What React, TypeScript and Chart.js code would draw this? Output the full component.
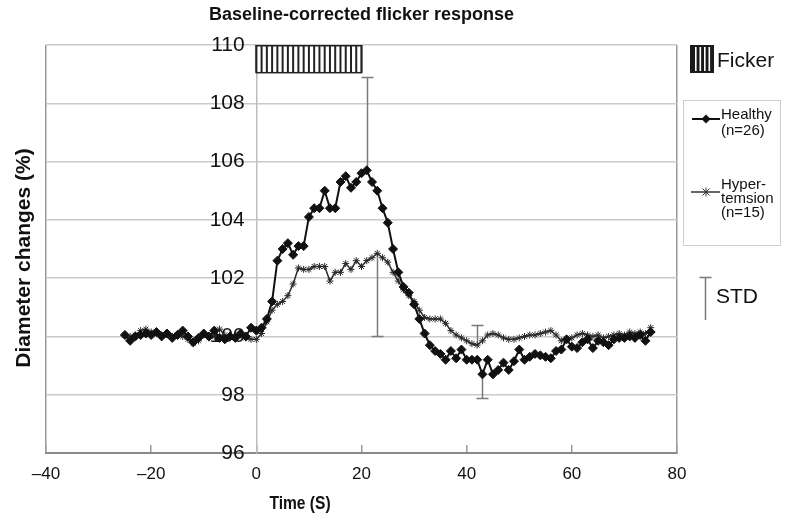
import React, { useEffect, useRef } from 'react';
import { Chart, registerables } from 'chart.js';

Chart.register(...registerables);

const FONT = "'Liberation Sans', Arial, Helvetica, sans-serif";

const chartTitle = 'Baseline-corrected flicker response';
const xTitle = 'Time (S)';
const yTitle = 'Diameter changes (%)';

const times = [
  -25, -24, -23, -22, -21, -20, -19, -18, -17, -16, -15, -14, -13, -12, -11, -10, -9, -8, -7, -6, -5, -4, -3, -2, -1,
  0, 1, 2, 3, 4, 5, 6, 7, 8, 9, 10, 11, 12, 13, 14, 15, 16, 17, 18, 19, 20, 21, 22, 23, 24, 25,
  26, 27, 28, 29, 30, 31, 32, 33, 34, 35, 36, 37, 38, 39, 40, 41, 42, 43, 44, 45, 46, 47, 48, 49, 50,
  51, 52, 53, 54, 55, 56, 57, 58, 59, 60, 61, 62, 63, 64, 65, 66, 67, 68, 69, 70, 71, 72, 73, 74, 75,
];

const healthy = [
  100.05, 99.85, 100.0, 100.05, 100.1, 100.05, 100.15, 100.0, 100.1, 99.95, 100.05, 100.2, 100.0, 99.8, 99.95,
  100.1, 100.0, 100.2, 99.95, 99.9, 100.0, 99.95, 100.1, 100.0, 100.3,
  100.2, 100.3, 100.6, 101.2, 102.6, 103.0, 103.2, 102.8, 103.1, 103.1, 104.1, 104.4, 104.4, 105.0, 104.4,
  104.4, 105.3, 105.5, 105.1, 105.3, 105.6, 105.7, 105.3, 105.0, 104.4, 103.9,
  103.0, 102.2, 101.7, 101.5, 101.1, 100.6, 100.1, 99.7, 99.5, 99.4, 99.2, 99.5, 99.25, 99.55, 99.2,
  99.2, 99.2, 98.7, 99.2, 98.7, 98.85, 99.1, 98.85, 99.15, 99.55,
  99.2, 99.3, 99.4, 99.35, 99.3, 99.25, 99.5, 99.55, 99.9, 99.65, 99.6, 99.8, 99.9, 99.6, 99.85,
  99.8, 99.7, 99.9, 99.95, 99.95, 100.0, 99.95, 100.05, 99.85, 100.15,
];

const hypertension = [
  100.05, 100.0, 100.05, 100.2, 100.25, 100.15, 100.1, 100.05, 100.1, 100.0, 100.05, 100.0, 99.9, 99.75, 99.85,
  100.05, 99.95, 100.0, 100.25, 100.05, 99.95, 100.0, 100.05, 99.95, 99.9,
  99.9, 100.1, 100.5, 100.9, 101.1, 101.2, 101.4, 101.8, 102.35, 102.3, 102.3, 102.4, 102.4, 102.4, 101.9,
  102.2, 102.2, 102.5, 102.3, 102.6, 102.4, 102.6, 102.7, 102.85, 102.7, 102.55,
  102.2, 101.9, 101.6, 101.4, 101.2, 100.9, 100.65, 100.6, 100.6, 100.6, 100.45, 100.2, 100.05, 99.95, 99.85,
  99.75, 99.7, 99.85, 100.05, 100.1, 100.05, 99.95, 99.9, 99.9, 99.95,
  100.0, 100.05, 100.05, 100.1, 100.15, 100.2, 100.05, 99.85, 99.9, 99.95, 100.05, 100.1, 100.05, 100.0, 100.05,
  99.95, 100.0, 100.05, 100.1, 100.05, 100.15, 100.1, 100.15, 100.1, 100.3,
];

// STD error bars (only one side drawn): time, start value (at mean), end value (cap)
const stdTimes = [21, 23, 42, 43];
const stdFrom = [105.7, 102.85, 99.7, 98.7];
const stdTo = [108.9, 100.0, 100.4, 97.9];

// flicker stimulus period
const flickerStart = 0;
const flickerEnd = 20;
const flickerLow = 109.05;
const flickerHigh = 110;

const xTicks = [-40, -20, 0, 20, 40, 60, 80];
const yMin = 96;
const yMax = 110;

const overlayPlugin = {
  id: 'overlay',
  beforeDatasetsDraw(chart: any) {
    const { ctx, scales } = chart;
    const x = scales.x;
    const y = scales.y;
    ctx.save();
    ctx.strokeStyle = '#7a7a7a';
    ctx.lineWidth = 1.5;
    stdTimes.forEach((t, i) => {
      const px = Math.round(x.getPixelForValue(t)) + 0.5;
      const p0 = y.getPixelForValue(stdFrom[i]);
      const p1 = Math.round(y.getPixelForValue(stdTo[i])) + 0.5;
      ctx.beginPath();
      ctx.moveTo(px, p0);
      ctx.lineTo(px, p1);
      ctx.moveTo(px - 6, p1);
      ctx.lineTo(px + 6, p1);
      ctx.stroke();
    });
    ctx.restore();
  },
  afterDatasetsDraw(chart: any) {
    const { ctx, scales } = chart;
    const x = scales.x;
    const y = scales.y;
    const x0 = x.getPixelForValue(flickerStart);
    const x1 = x.getPixelForValue(flickerEnd);
    const y0 = y.getPixelForValue(flickerHigh);
    const y1 = y.getPixelForValue(flickerLow);
    ctx.save();
    ctx.fillStyle = '#ffffff';
    ctx.fillRect(x0, y0, x1 - x0, y1 - y0);
    ctx.strokeStyle = '#222';
    ctx.lineWidth = 2;
    for (let t = flickerStart; t <= flickerEnd; t += 1) {
      const px = x.getPixelForValue(t);
      ctx.beginPath();
      ctx.moveTo(px, y0);
      ctx.lineTo(px, y1);
      ctx.stroke();
    }
    ctx.lineWidth = 1.5;
    ctx.strokeRect(x0, y0 + 0.75, x1 - x0, y1 - y0 - 0.75);
    ctx.restore();
  },
  afterDraw(chart: any) {
    const { ctx } = chart;
    ctx.save();
    // axis titles
    ctx.fillStyle = '#111';
    ctx.font = `bold 21px ${FONT}`;
    ctx.textAlign = 'center';
    ctx.textBaseline = 'middle';
    ctx.translate(24, 258);
    ctx.rotate(-Math.PI / 2);
    ctx.fillText(yTitle, 0, 0);
    ctx.setTransform(1, 0, 0, 1, 0, 0);
    ctx.translate(300, 504);
    ctx.scale(0.82, 1);
    ctx.font = `bold 19px ${FONT}`;
    ctx.fillText(xTitle, 0, 0);
    ctx.setTransform(1, 0, 0, 1, 0, 0);

    // Flicker legend icon
    ctx.fillStyle = '#1a1a1a';
    ctx.fillRect(690, 45, 24, 28);
    ctx.fillStyle = '#ffffff';
    [4.5, 9, 13.5, 18].forEach((o) => ctx.fillRect(690 + o + 0.5, 47, 1.6, 24));
    ctx.fillStyle = '#111';
    ctx.textAlign = 'left';
    ctx.font = `21px ${FONT}`;
    ctx.fillText('Ficker', 717, 61);

    // legend box
    ctx.strokeStyle = '#cfcfcf';
    ctx.lineWidth = 1;
    ctx.strokeRect(683.5, 100.5, 97, 145);

    // Healthy entry
    ctx.strokeStyle = '#111';
    ctx.lineWidth = 2;
    ctx.beginPath();
    ctx.moveTo(692, 119);
    ctx.lineTo(720, 119);
    ctx.stroke();
    ctx.fillStyle = '#111';
    ctx.beginPath();
    ctx.moveTo(706, 114.5);
    ctx.lineTo(710.5, 119);
    ctx.lineTo(706, 123.5);
    ctx.lineTo(701.5, 119);
    ctx.closePath();
    ctx.fill();
    ctx.font = `15px ${FONT}`;
    ctx.fillText('Healthy', 721, 115);
    ctx.fillText('(n=26)', 721, 131);

    // Hypertension entry
    ctx.strokeStyle = '#333';
    ctx.lineWidth = 1.5;
    ctx.beginPath();
    ctx.moveTo(691, 192);
    ctx.lineTo(720, 192);
    ctx.stroke();
    ctx.lineWidth = 1;
    ctx.beginPath();
    ctx.moveTo(702.5, 188.5);
    ctx.lineTo(709.5, 195.5);
    ctx.moveTo(709.5, 188.5);
    ctx.lineTo(702.5, 195.5);
    ctx.moveTo(706, 187.5);
    ctx.lineTo(706, 196.5);
    ctx.stroke();
    ctx.fillText('Hyper-', 721, 185);
    ctx.fillText('temsion', 721, 199);
    ctx.fillText('(n=15)', 721, 213);

    // STD entry
    ctx.strokeStyle = '#7a7a7a';
    ctx.lineWidth = 1.5;
    ctx.beginPath();
    ctx.moveTo(705.5, 277);
    ctx.lineTo(705.5, 320);
    ctx.moveTo(699.5, 277.5);
    ctx.lineTo(711.5, 277.5);
    ctx.stroke();
    ctx.font = `21px ${FONT}`;
    ctx.fillText('STD', 716, 297);
    ctx.restore();
  },
};

export default function App() {
  const canvasRef = useRef<HTMLCanvasElement | null>(null);

  useEffect(() => {
    const canvas = canvasRef.current;
    if (!canvas) return;
    const chart = new Chart(canvas, {
      type: 'line',
      data: {
        datasets: [
          {
            label: 'Healthy (n=26)',
            data: times.map((t, i) => ({ x: t, y: healthy[i] })),
            borderColor: '#111',
            backgroundColor: '#111',
            borderWidth: 2,
            pointStyle: 'rectRot',
            pointRadius: 4.5,
            pointBackgroundColor: '#111',
            pointBorderColor: '#111',
            pointBorderWidth: 1,
            tension: 0,
          },
          {
            label: 'Hyper-temsion (n=15)',
            data: times.map((t, i) => ({ x: t, y: hypertension[i] })),
            borderColor: '#2a2a2a',
            backgroundColor: '#2a2a2a',
            borderWidth: 1.5,
            pointStyle: 'star',
            pointRadius: 3.5,
            pointBackgroundColor: '#2a2a2a',
            pointBorderColor: '#2a2a2a',
            pointBorderWidth: 1,
            tension: 0,
          },
        ],
      },
      options: {
        animation: false,
        responsive: false,
        maintainAspectRatio: false,
        layout: { padding: { left: 46, right: 110, top: 0, bottom: 0 } },
        plugins: {
          legend: { display: false },
          tooltip: { enabled: false },
          title: {
            display: true,
            text: chartTitle,
            fullSize: false,
            color: '#111',
            font: { family: FONT, size: 18, weight: 'bold' },
            padding: { top: 4, bottom: 19.4 },
          },
        },
        scales: {
          x: {
            type: 'linear',
            position: 'bottom',
            min: xTicks[0],
            max: xTicks[xTicks.length - 1],
            afterBuildTicks: (s: any) => {
              s.ticks = xTicks.map((v) => ({ value: v }));
            },
            afterFit: (s: any) => {
              s.height = 64;
            },
            ticks: {
              color: '#111',
              font: { family: FONT, size: 17 },
              padding: 19,
              maxRotation: 0,
              autoSkip: false,
              callback: (v: any) => (Number(v) < 0 ? '\u2013' + Math.abs(Number(v)) : String(v)),
            },
            grid: {
              drawOnChartArea: true,
              color: (c: any) =>
                c.tick && (c.tick.value === xTicks[0] || c.tick.value === xTicks[xTicks.length - 1])
                  ? '#9a9a9a'
                  : 'rgba(0,0,0,0)',
              tickColor: '#9a9a9a',
              tickLength: -8,
              lineWidth: 1.5,
            },
            border: { display: true, color: '#8a8a8a', width: 2 },
          },
          y: {
            type: 'linear',
            position: { x: 0 } as any,
            min: yMin,
            max: yMax,
            ticks: {
              stepSize: 2,
              color: '#111',
              font: { family: FONT, size: 21 },
              padding: 12,
              callback: (v: any) => String(v) + '  ',
            },
            grid: { color: '#cacaca', lineWidth: 1.5, drawTicks: false },
            border: { display: true, color: '#bdbdbd', width: 1.5 },
          },
        },
      },
      plugins: [overlayPlugin],
    } as any);
    return () => chart.destroy();
  }, []);

  return (
    <div style={{ position: 'fixed', left: 0, top: 0, width: 787, height: 517, background: '#fff' }}>
      <canvas ref={canvasRef} width={787} height={517} style={{ display: 'block' }} />
    </div>
  );
}
